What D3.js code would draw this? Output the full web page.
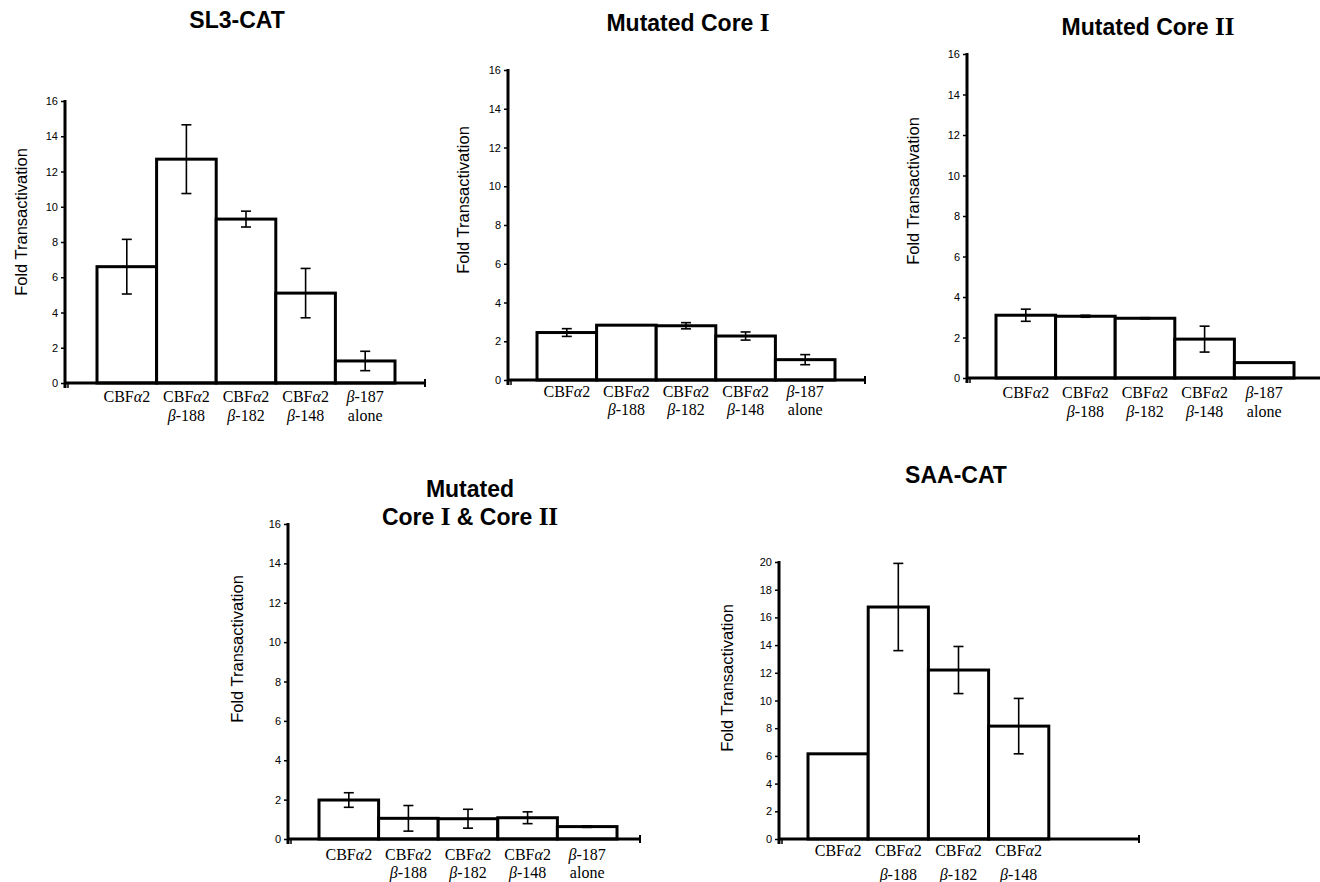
<!DOCTYPE html>
<html>
<head>
<meta charset="utf-8">
<script src="https://cdn.jsdelivr.net/npm/d3@7"></script>
<style>
  body { margin: 0; background: #fff; }
  svg { display: block; }
</style>
</head>
<body>
<svg id="chart" width="1320" height="882"></svg>
<script>
// category labels (two lines each)
const catsFull = [["CBFα2"], ["CBFα2", "β-188"], ["CBFα2", "β-182"], ["CBFα2", "β-148"], ["β-187", "alone"]];
const catsSaa = [["CBFα2"], ["CBFα2", "β-188"], ["CBFα2", "β-182"], ["CBFα2", "β-148"]];

// values (fold transactivation, mean and error)
const sl3Values = [6.6, 12.7, 9.3, 5.1, 1.25];
const sl3Err = [1.55, 1.95, 0.45, 1.4, 0.55];
const coreIValues = [2.45, 2.83, 2.8, 2.27, 1.05];
const coreIErr = [0.2, 0, 0.16, 0.21, 0.26];
const coreIIValues = [3.1, 3.05, 2.95, 1.92, 0.76];
const coreIIErr = [0.3, 0.05, 0.03, 0.64, 0];
const bothValues = [1.98, 1.05, 1.03, 1.08, 0.63];
const bothErr = [0.37, 0.65, 0.48, 0.3, 0.04];
const saaValues = [6.15, 16.75, 12.2, 8.15];
const saaErr = [0, 3.15, 1.7, 2.0];

const ticks16 = [0, 2, 4, 6, 8, 10, 12, 14, 16];
const ticks20 = [0, 2, 4, 6, 8, 10, 12, 14, 16, 18, 20];

// panel layout
const panels = [
  {title: [["SL3-CAT"]], tx: 237, ty: 28, values: sl3Values, err: sl3Err, cats: catsFull, max: 16, ticks: ticks16,
   ox: 65, y0: 383, yTop: 101, end: 425, b0: 97, b1: 395, lx: 21, ly: 222, l1: 19, l2: 38},
  {title: [["Mutated Core ", "I"]], tx: 688, ty: 31, values: coreIValues, err: coreIErr, cats: catsFull, max: 16, ticks: ticks16,
   ox: 508, y0: 380, yTop: 70, end: 865, b0: 537, b1: 835, lx: 463, ly: 200, l1: 17, l2: 35},
  {title: [["Mutated Core ", "II"]], tx: 1148, ty: 35, values: coreIIValues, err: coreIIErr, cats: catsFull, max: 16, ticks: ticks16,
   ox: 967, y0: 378, yTop: 54, end: 1322, b0: 996, b1: 1294, lx: 913, ly: 191, l1: 20, l2: 39},
  {title: [["Mutated"], ["Core ", "I", " & Core ", "II"]], tx: 470, ty: 497, values: bothValues, err: bothErr, cats: catsFull, max: 16, ticks: ticks16,
   ox: 288, y0: 839, yTop: 524, end: 640, b0: 319, b1: 617, lx: 237, ly: 649, l1: 21, l2: 39},
  {title: [["SAA-CAT"]], tx: 956, ty: 483, values: saaValues, err: saaErr, cats: catsSaa, max: 20, ticks: ticks20,
   ox: 779, y0: 839, yTop: 562, end: 1139, b0: 808, b1: 1109, lx: 727, ly: 678, l1: 17, l2: 41}
];

const svg = d3.select('#chart');
const sans = 'Arial, "Liberation Sans", Helvetica, sans-serif';
const serif = '"Times New Roman", "Liberation Serif", serif';

// write a label line, greek letters in italics
function greekLine(sel, str) {
  str.split(/([αβ])/).filter(s => s.length).forEach(part => {
    sel.append('tspan')
      .style('font-style', /[αβ]/.test(part) ? 'italic' : 'normal')
      .text(part);
  });
}

panels.forEach(p => {
  const g = svg.append('g');

  const y = d3.scaleLinear().domain([0, p.max]).range([p.y0, p.yTop]);
  // always 5 slots, SAA uses only 4
  const x = d3.scaleBand().domain(d3.range(5)).range([p.b0, p.b1]).padding(0);

  // title
  p.title.forEach((line, i) => {
    const t = g.append('text')
      .attr('x', p.tx).attr('y', p.ty + i * 28)
      .attr('text-anchor', 'middle')
      .style('font-family', sans).style('font-weight', 'bold').style('font-size', '23px');
    line.forEach(part => {
      const roman = /^I+$/.test(part);
      t.append('tspan')
        .style('font-family', roman ? serif : sans)
        .style('font-size', roman ? '25px' : '23px')
        .text(part);
    });
  });

  // y axis
  const yAxis = g.append('g')
    .attr('transform', `translate(${p.ox},0)`)
    .call(d3.axisLeft(y).tickValues(p.ticks).tickSize(4).tickPadding(3).tickSizeOuter(0));
  yAxis.select('.domain').remove();
  yAxis.selectAll('.tick line').attr('stroke', '#000').attr('stroke-width', 1.5);
  yAxis.selectAll('.tick text')
    .style('font-family', sans).style('font-size', '11px').attr('fill', '#000');
  g.append('line')
    .attr('x1', p.ox).attr('x2', p.ox)
    .attr('y1', p.yTop - 1).attr('y2', p.y0 + 5)
    .attr('stroke', '#000').attr('stroke-width', 3);

  // y label
  g.append('text')
    .attr('transform', `translate(${p.lx + 6},${p.ly}) rotate(-90)`)
    .attr('text-anchor', 'middle')
    .style('font-family', sans).style('font-size', '16.5px')
    .text('Fold Transactivation');

  // bars
  g.selectAll('rect.bar')
    .data(p.values)
    .join('rect')
    .attr('class', 'bar')
    .attr('x', (d, i) => x(i))
    .attr('y', d => y(d))
    .attr('width', x.bandwidth())
    .attr('height', d => p.y0 - y(d))
    .attr('fill', '#fff')
    .attr('stroke', '#000')
    .attr('stroke-width', 3);

  // error bars
  p.values.forEach((v, i) => {
    const e = p.err[i];
    if (!e) return;
    const cx = x(i) + x.bandwidth() / 2;
    const eg = g.append('g').attr('stroke', '#000').attr('stroke-width', 1.6);
    eg.append('line').attr('x1', cx).attr('x2', cx).attr('y1', y(v + e)).attr('y2', y(v - e));
    eg.append('line').attr('x1', cx - 5).attr('x2', cx + 5).attr('y1', y(v + e)).attr('y2', y(v + e));
    eg.append('line').attr('x1', cx - 5).attr('x2', cx + 5).attr('y1', y(v - e)).attr('y2', y(v - e));
  });

  // x axis
  g.append('line')
    .attr('x1', p.ox).attr('x2', p.end)
    .attr('y1', p.y0).attr('y2', p.y0)
    .attr('stroke', '#000').attr('stroke-width', 3);
  g.append('line')
    .attr('x1', p.ox + 3).attr('x2', p.ox + 3)
    .attr('y1', p.y0).attr('y2', p.y0 + 5)
    .attr('stroke', '#000').attr('stroke-width', 1.5);
  g.append('line')
    .attr('x1', p.end).attr('x2', p.end)
    .attr('y1', p.y0 - 4).attr('y2', p.y0 + 4)
    .attr('stroke', '#000').attr('stroke-width', 2);

  // category labels
  p.cats.forEach((lines, i) => {
    const cx = x(i) + x.bandwidth() / 2;
    lines.forEach((line, j) => {
      const t = g.append('text')
        .attr('x', cx)
        .attr('y', p.y0 + (j === 0 ? p.l1 : p.l2))
        .attr('text-anchor', 'middle')
        .style('font-family', serif).style('font-size', '16px');
      greekLine(t, line);
    });
  });
});
</script>
</body>
</html>
